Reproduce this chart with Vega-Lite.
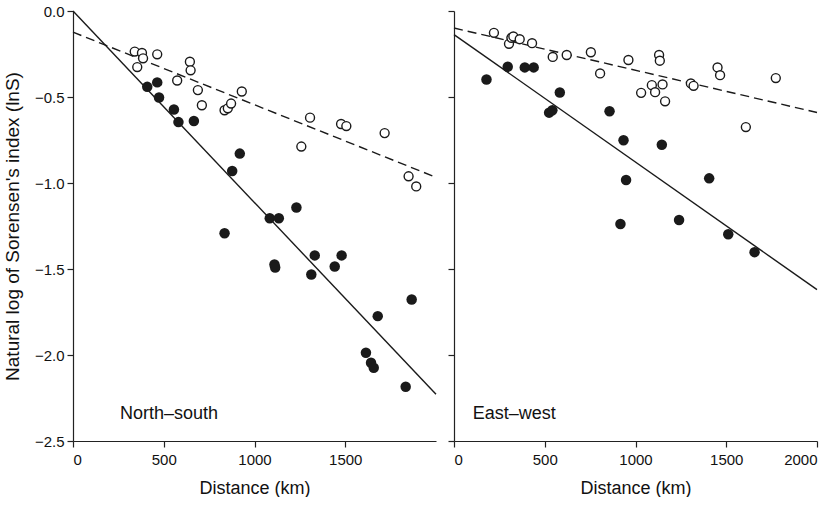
{
  "$schema": "https://vega.github.io/schema/vega-lite/v6.json",
  "padding": {"left": 3, "top": 4, "right": 0, "bottom": 0},
  "background": "white",
  "spacing": 8,
  "datasets": {
    "pts": [
      {"panel": "NS", "type": "open", "km": 340, "lnS": -0.236},
      {"panel": "NS", "type": "open", "km": 380, "lnS": -0.244},
      {"panel": "NS", "type": "open", "km": 386, "lnS": -0.275},
      {"panel": "NS", "type": "open", "km": 354, "lnS": -0.326},
      {"panel": "NS", "type": "open", "km": 464, "lnS": -0.252},
      {"panel": "NS", "type": "open", "km": 644, "lnS": -0.295},
      {"panel": "NS", "type": "open", "km": 648, "lnS": -0.345},
      {"panel": "NS", "type": "open", "km": 574, "lnS": -0.404},
      {"panel": "NS", "type": "open", "km": 688, "lnS": -0.46},
      {"panel": "NS", "type": "open", "km": 710, "lnS": -0.548},
      {"panel": "NS", "type": "open", "km": 835, "lnS": -0.577},
      {"panel": "NS", "type": "open", "km": 853, "lnS": -0.566},
      {"panel": "NS", "type": "open", "km": 871, "lnS": -0.538},
      {"panel": "NS", "type": "open", "km": 930, "lnS": -0.468},
      {"panel": "NS", "type": "open", "km": 1306, "lnS": -0.62},
      {"panel": "NS", "type": "open", "km": 1258, "lnS": -0.788},
      {"panel": "NS", "type": "open", "km": 1477, "lnS": -0.657},
      {"panel": "NS", "type": "open", "km": 1506, "lnS": -0.669},
      {"panel": "NS", "type": "open", "km": 1717, "lnS": -0.71},
      {"panel": "NS", "type": "open", "km": 1849, "lnS": -0.961},
      {"panel": "NS", "type": "open", "km": 1891, "lnS": -1.02},
      {"panel": "NS", "type": "filled", "km": 409, "lnS": -0.441},
      {"panel": "NS", "type": "filled", "km": 464, "lnS": -0.415},
      {"panel": "NS", "type": "filled", "km": 474, "lnS": -0.503},
      {"panel": "NS", "type": "filled", "km": 556, "lnS": -0.573},
      {"panel": "NS", "type": "filled", "km": 581, "lnS": -0.646},
      {"panel": "NS", "type": "filled", "km": 666, "lnS": -0.64},
      {"panel": "NS", "type": "filled", "km": 919, "lnS": -0.829},
      {"panel": "NS", "type": "filled", "km": 877, "lnS": -0.93},
      {"panel": "NS", "type": "filled", "km": 835, "lnS": -1.292},
      {"panel": "NS", "type": "filled", "km": 1084, "lnS": -1.205},
      {"panel": "NS", "type": "filled", "km": 1134, "lnS": -1.205},
      {"panel": "NS", "type": "filled", "km": 1231, "lnS": -1.142},
      {"panel": "NS", "type": "filled", "km": 1110, "lnS": -1.474},
      {"panel": "NS", "type": "filled", "km": 1114, "lnS": -1.491},
      {"panel": "NS", "type": "filled", "km": 1332, "lnS": -1.421},
      {"panel": "NS", "type": "filled", "km": 1480, "lnS": -1.421},
      {"panel": "NS", "type": "filled", "km": 1442, "lnS": -1.485},
      {"panel": "NS", "type": "filled", "km": 1313, "lnS": -1.532},
      {"panel": "NS", "type": "filled", "km": 1866, "lnS": -1.677},
      {"panel": "NS", "type": "filled", "km": 1679, "lnS": -1.774},
      {"panel": "NS", "type": "filled", "km": 1614, "lnS": -1.987},
      {"panel": "NS", "type": "filled", "km": 1642, "lnS": -2.045},
      {"panel": "NS", "type": "filled", "km": 1657, "lnS": -2.074},
      {"panel": "NS", "type": "filled", "km": 1833, "lnS": -2.185},
      {"panel": "EW", "type": "open", "km": 220, "lnS": -0.127},
      {"panel": "EW", "type": "open", "km": 303, "lnS": -0.191},
      {"panel": "EW", "type": "open", "km": 316, "lnS": -0.156},
      {"panel": "EW", "type": "open", "km": 327, "lnS": -0.148},
      {"panel": "EW", "type": "open", "km": 362, "lnS": -0.164},
      {"panel": "EW", "type": "open", "km": 430, "lnS": -0.187},
      {"panel": "EW", "type": "open", "km": 544, "lnS": -0.267},
      {"panel": "EW", "type": "open", "km": 621, "lnS": -0.256},
      {"panel": "EW", "type": "open", "km": 754, "lnS": -0.24},
      {"panel": "EW", "type": "open", "km": 805, "lnS": -0.363},
      {"panel": "EW", "type": "open", "km": 961, "lnS": -0.285},
      {"panel": "EW", "type": "open", "km": 1031, "lnS": -0.476},
      {"panel": "EW", "type": "open", "km": 1130, "lnS": -0.256},
      {"panel": "EW", "type": "open", "km": 1134, "lnS": -0.289},
      {"panel": "EW", "type": "open", "km": 1090, "lnS": -0.431},
      {"panel": "EW", "type": "open", "km": 1108, "lnS": -0.472},
      {"panel": "EW", "type": "open", "km": 1149, "lnS": -0.427},
      {"panel": "EW", "type": "open", "km": 1163, "lnS": -0.525},
      {"panel": "EW", "type": "open", "km": 1305, "lnS": -0.421},
      {"panel": "EW", "type": "open", "km": 1320, "lnS": -0.435},
      {"panel": "EW", "type": "open", "km": 1452, "lnS": -0.328},
      {"panel": "EW", "type": "open", "km": 1466, "lnS": -0.373},
      {"panel": "EW", "type": "open", "km": 1608, "lnS": -0.675},
      {"panel": "EW", "type": "open", "km": 1773, "lnS": -0.39},
      {"panel": "EW", "type": "filled", "km": 179, "lnS": -0.398},
      {"panel": "EW", "type": "filled", "km": 296, "lnS": -0.324},
      {"panel": "EW", "type": "filled", "km": 390, "lnS": -0.328},
      {"panel": "EW", "type": "filled", "km": 439, "lnS": -0.328},
      {"panel": "EW", "type": "filled", "km": 583, "lnS": -0.474},
      {"panel": "EW", "type": "filled", "km": 524, "lnS": -0.591},
      {"panel": "EW", "type": "filled", "km": 542, "lnS": -0.577},
      {"panel": "EW", "type": "filled", "km": 857, "lnS": -0.583},
      {"panel": "EW", "type": "filled", "km": 934, "lnS": -0.751},
      {"panel": "EW", "type": "filled", "km": 948, "lnS": -0.983},
      {"panel": "EW", "type": "filled", "km": 1145, "lnS": -0.778},
      {"panel": "EW", "type": "filled", "km": 1406, "lnS": -0.973},
      {"panel": "EW", "type": "filled", "km": 917, "lnS": -1.238},
      {"panel": "EW", "type": "filled", "km": 1240, "lnS": -1.215},
      {"panel": "EW", "type": "filled", "km": 1511, "lnS": -1.298},
      {"panel": "EW", "type": "filled", "km": 1656, "lnS": -1.402}
    ],
    "fits": [
      {"panel": "NS", "fit": "solid", "km": 0, "lnS": 0.0},
      {"panel": "NS", "fit": "solid", "km": 2000, "lnS": -2.228},
      {"panel": "NS", "fit": "dashed", "km": 0, "lnS": -0.123},
      {"panel": "NS", "fit": "dashed", "km": 2000, "lnS": -0.967},
      {"panel": "EW", "fit": "solid", "km": 0, "lnS": -0.137},
      {"panel": "EW", "fit": "solid", "km": 2000, "lnS": -1.62},
      {"panel": "EW", "fit": "dashed", "km": 0, "lnS": -0.099},
      {"panel": "EW", "fit": "dashed", "km": 2000, "lnS": -0.59}
    ],
    "labels": [
      {"panel": "NS", "label": "North–south", "km": 259, "lnS": -2.343},
      {"panel": "EW", "label": "East–west", "km": 103, "lnS": -2.343}
    ]
  },
  "hconcat": [
    {
      "width": 363,
      "height": 430,
      "encoding": {
        "x": {"field": "km", "type": "quantitative", "scale": {"domain": [0, 2000], "nice": false}, "axis": {"values": [0, 500, 1000, 1500], "format": "d", "title": "Distance (km)"}},
        "y": {"field": "lnS", "type": "quantitative", "scale": {"domain": [-2.5, 0], "nice": false}, "axis": {"values": [0, -0.5, -1, -1.5, -2, -2.5], "format": ".1f", "title": "Natural log of Sorensen's index (lnS)"}}
      },
      "layer": [
        {"data": {"name": "fits"}, "transform": [{"filter": "datum.panel === 'NS' && datum.fit === 'solid'"}], "mark": {"type": "line", "color": "#1a1a1a", "strokeWidth": 1.4}},
        {"data": {"name": "fits"}, "transform": [{"filter": "datum.panel === 'NS' && datum.fit === 'dashed'"}], "mark": {"type": "line", "color": "#1a1a1a", "strokeWidth": 1.4, "strokeDash": [9, 5]}},
        {"data": {"name": "pts"}, "transform": [{"filter": "datum.panel === 'NS' && datum.type === 'open'"}], "mark": {"type": "point", "shape": "circle", "fill": "white", "stroke": "#1a1a1a", "strokeWidth": 1.4, "size": 80, "opacity": 1, "filled": false}},
        {"data": {"name": "pts"}, "transform": [{"filter": "datum.panel === 'NS' && datum.type === 'filled'"}], "mark": {"type": "circle", "color": "#1a1a1a", "size": 110, "opacity": 1}},
        {"data": {"name": "labels"}, "transform": [{"filter": "datum.panel === 'NS'"}], "mark": {"type": "text", "align": "left", "baseline": "middle", "fontSize": 18, "color": "#111"}, "encoding": {"text": {"field": "label"}}}
      ]
    },
    {
      "width": 363,
      "height": 430,
      "encoding": {
        "x": {"field": "km", "type": "quantitative", "scale": {"domain": [0, 2000], "nice": false}, "axis": {"values": [0, 500, 1000, 1500, 2000], "format": "d", "title": "Distance (km)"}},
        "y": {"field": "lnS", "type": "quantitative", "scale": {"domain": [-2.5, 0], "nice": false}, "axis": {"values": [0, -0.5, -1, -1.5, -2, -2.5], "labels": false, "title": null}}
      },
      "layer": [
        {"data": {"name": "fits"}, "transform": [{"filter": "datum.panel === 'EW' && datum.fit === 'solid'"}], "mark": {"type": "line", "color": "#1a1a1a", "strokeWidth": 1.4}},
        {"data": {"name": "fits"}, "transform": [{"filter": "datum.panel === 'EW' && datum.fit === 'dashed'"}], "mark": {"type": "line", "color": "#1a1a1a", "strokeWidth": 1.4, "strokeDash": [9, 5]}},
        {"data": {"name": "pts"}, "transform": [{"filter": "datum.panel === 'EW' && datum.type === 'open'"}], "mark": {"type": "point", "shape": "circle", "fill": "white", "stroke": "#1a1a1a", "strokeWidth": 1.4, "size": 80, "opacity": 1, "filled": false}},
        {"data": {"name": "pts"}, "transform": [{"filter": "datum.panel === 'EW' && datum.type === 'filled'"}], "mark": {"type": "circle", "color": "#1a1a1a", "size": 110, "opacity": 1}},
        {"data": {"name": "labels"}, "transform": [{"filter": "datum.panel === 'EW'"}], "mark": {"type": "text", "align": "left", "baseline": "middle", "fontSize": 18, "color": "#111"}, "encoding": {"text": {"field": "label"}}}
      ]
    }
  ],
  "config": {
    "font": "Liberation Sans",
    "view": {"stroke": null},
    "axis": {
      "grid": false,
      "domainColor": "#222",
      "tickColor": "#222",
      "domainWidth": 1.2,
      "tickWidth": 1.2,
      "tickSize": 6,
      "labelColor": "#111",
      "titleColor": "#111",
      "labelFontSize": 15,
      "titleFontSize": 18,
      "titleFontWeight": "normal",
      "labelPadding": 3,
      "titlePadding": 10
    },
    "axisX": {"labelPadding": 5, "titlePadding": 12},
    "axisY": {"titlePadding": 12, "titleFontSize": 19}
  }
}
